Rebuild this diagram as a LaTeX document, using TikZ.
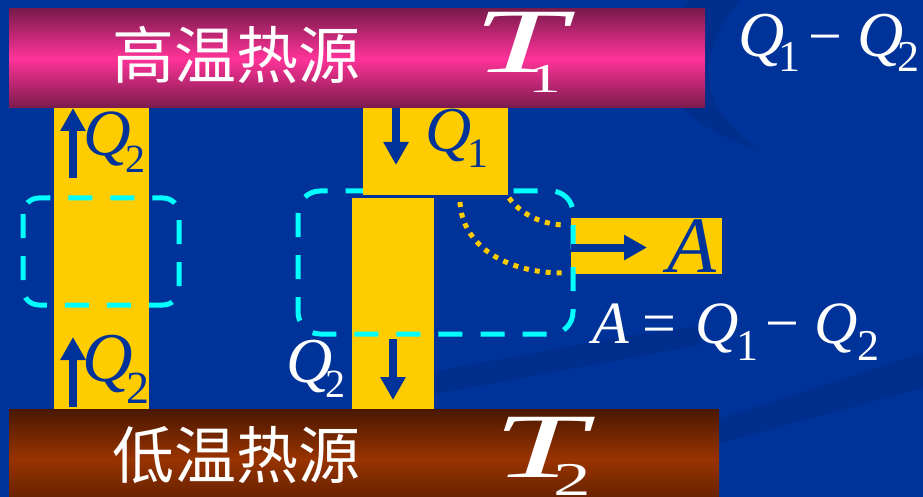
\documentclass[tikz,border=0pt]{standalone}
\usepackage{fontspec}
\newfontfamily\tnr{LiberationSerif}[Extension=.ttf,UprightFont=*-Regular,ItalicFont=*-Italic]
\newfontfamily\zhfont{Noto Sans CJK SC}
\usetikzlibrary{arrows.meta}
\definecolor{bg}{HTML}{003399}
\definecolor{swirl}{HTML}{002E8C}
\definecolor{gold}{HTML}{FFCC00}
\definecolor{cyanline}{HTML}{00FFFF}
\definecolor{hotdark}{HTML}{7A1A4C}
\definecolor{hotpink}{HTML}{FF3399}
\definecolor{browndark}{HTML}{4A1800}
\definecolor{brownmid}{HTML}{993300}
\newcommand\fs[1]{\fontsize{#1}{#1}\selectfont\tnr}
\newcommand\low[3]{\raisebox{-#3pt}{\fs{#1}\upshape #2}}
\newcommand\mminus{\char"2212}
\tikzset{
  txt/.style={inner sep=0pt, outer sep=0pt, anchor=base west},
  wtxt/.style={txt, text=white},
  btxt/.style={txt, text=bg},
  wide/.style={xscale=1.6},
  wider/.style={xscale=1.8},
  goldbox/.style={fill=gold},
  heatarrow/.style={draw=bg, line width=8pt, -{Triangle[width=24pt,length=23pt]}},
  cycle box/.style={draw=cyanline, line width=5pt, dash pattern=on 24pt off 18pt},
  workflow/.style={draw=gold, line width=5pt, dash pattern=on 5pt off 6pt},
}
\begin{document}
\begin{tikzpicture}[x=1pt,y=-1pt]
\clip (0,0) rectangle (923,497);
\fill[bg] (0,0) rectangle (923,497);
% subtle background swirls
\fill[swirl] (420,374) -- (620,337) -- (700,326) -- (700,345) -- (430,395) -- cycle;
\fill[swirl] (560,470) -- (923,353) -- (923,388) -- (720,443) -- (600,497) -- cycle;
\fill[swirl] (690,0) .. controls (640,60) and (660,120) .. (760,150)
  .. controls (700,110) and (690,60) .. (740,0) -- cycle;
% heat reservoirs
\shade[top color=hotdark, bottom color=hotdark, middle color=hotpink] (9,9) rectangle (705,108);
\shade[top color=browndark, bottom color=browndark!80!brownmid, middle color=brownmid] (9,409) rectangle (719,509);
\node[text=white, inner sep=0pt] (hot) at (236,55) {\fontsize{62}{62}\selectfont\zhfont 高温热源};
\node[text=white, inner sep=0pt] (cold) at (236,455) {\fontsize{62}{62}\selectfont\zhfont 低温热源};
\node[wtxt, wider] (T1) at (473,73) {\fs{92}\itshape T};
\node[wtxt, wide] (T1s) at (528,93) {\fs{41}1};
\node[wtxt, wider] (T2) at (493,477) {\fs{92}\itshape T};
\node[wtxt, wide] (T2s) at (553,495) {\fs{47}2};
% yellow bands
\fill[goldbox] (54,108) rectangle (149,409);
\fill[goldbox] (352,198) rectangle (434,409);
\fill[goldbox] (571,218) rectangle (722,274);
% cycle outlines
\draw[cycle box, rounded corners=16pt] (23,198) rectangle (179,305);
\draw[cycle box, rounded corners=22pt] (298,191) rectangle (573,334);
\fill[goldbox] (363,108) rectangle (508,195);
% work flow dotted lines
\draw[workflow] (509,198) .. controls (520,213) and (540,224) .. (563,225);
\draw[workflow] (460,202) .. controls (462,245) and (505,273) .. (563,273);
% arrows
\coordinate (a1s) at (73,178); \coordinate (a1e) at (73,108);
\coordinate (a2s) at (73,407); \coordinate (a2e) at (73,337);
\coordinate (a3s) at (396,108); \coordinate (a3e) at (396,165);
\coordinate (a4s) at (393,339); \coordinate (a4e) at (393,400);
\coordinate (a5s) at (571,247.5); \coordinate (a5e) at (647,247.5);
\draw[heatarrow] (a1s) -- (a1e);
\draw[heatarrow] (a2s) -- (a2e);
\draw[heatarrow] (a3s) -- (a3e);
\draw[heatarrow] (a4s) -- (a4e);
\draw[heatarrow] (a5s) -- (a5e);
% labels
\node[btxt] (lq2a) at (83,156) {\fs{66}\itshape Q\kern-5pt\low{40}{2}{17}};
\node[btxt] (lq2b) at (82,381) {\fs{70}\itshape Q\kern-6pt\low{46}{2}{22}};
\node[btxt] (mq1) at (425,152) {\fs{64}\itshape Q\kern-4pt\low{42}{1}{16}};
\node[wtxt] (mq2) at (286,382) {\fs{64}\itshape Q\kern-7pt\low{40}{2}{15}};
\node[btxt] (aa) at (667,272) {\fs{80}\itshape A};
% top right formula
\node[wtxt] (d1) at (738,57) {\fs{64}\itshape Q\kern-6pt\low{44}{1}{15}};
\node[wtxt] (d2) at (808,57) {\fs{60}\mminus};
\node[wtxt] (d3) at (857,57) {\fs{64}\itshape Q\kern-6pt\low{44}{2}{15}};
% work formula
\node[wtxt] (w1) at (592,343) {\fs{60}\itshape A};
\node[wtxt] (w2) at (642,343) {\fs{60}=};
\node[wtxt] (w3) at (695,343) {\fs{60}\itshape Q\kern-2pt\low{44}{1}{17}};
\node[wtxt] (w4) at (765,343) {\fs{60}\mminus};
\node[wtxt] (w5) at (814,343) {\fs{60}\itshape Q\kern0pt\low{44}{2}{17}};
\end{tikzpicture}
\end{document}
